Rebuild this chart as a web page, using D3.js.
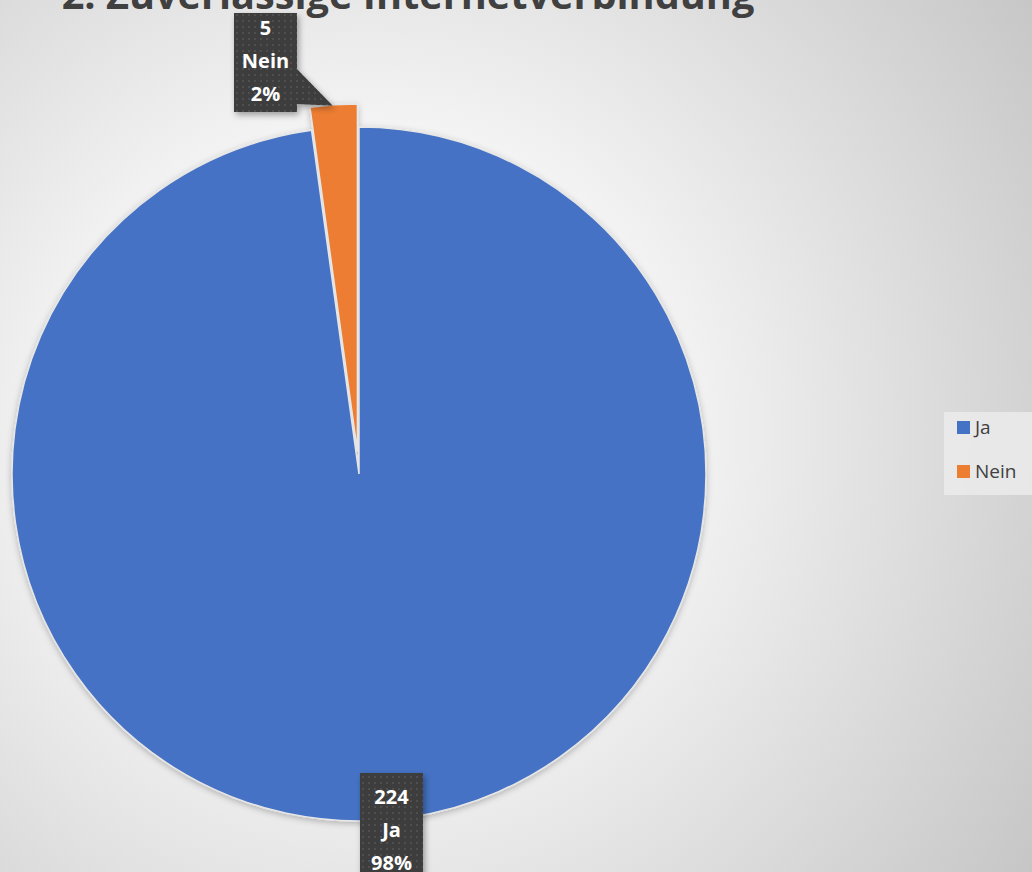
<!DOCTYPE html>
<html><head><meta charset="utf-8">
<script src="https://cdn.jsdelivr.net/npm/d3@7"></script>
<style>html,body{margin:0;padding:0;overflow:hidden;background:#fff}</style>
</head><body>
<svg id="chart" width="1032" height="872"></svg>
<script>
const categories = ["Ja", "Nein"];
const values = [224, 5];
const colors = ["#4472C4", "#ED7D31"];
const title = "2. Zuverlässige Internetverbindung";

const W = 1032, H = 872;
const svg = d3.select("#chart");
const defs = svg.append("defs");

const bg = defs.append("radialGradient").attr("id","bg").attr("gradientUnits","userSpaceOnUse")
  .attr("cx",370).attr("cy",430).attr("r",820);
bg.append("stop").attr("offset",0).attr("stop-color","#ffffff");
bg.append("stop").attr("offset",0.3).attr("stop-color","#f9f9f9");
bg.append("stop").attr("offset",1).attr("stop-color","#c4c4c4");
svg.append("rect").attr("width",W).attr("height",H).attr("fill","url(#bg)");

const pat = defs.append("pattern").attr("id","dots").attr("patternUnits","userSpaceOnUse").attr("width",6).attr("height",6);
pat.append("rect").attr("width",6).attr("height",6).attr("fill","#3d3d3d");
pat.append("circle").attr("cx",3).attr("cy",3).attr("r",1).attr("fill","#555555");

const sh = defs.append("filter").attr("id","shadow").attr("x","-20%").attr("y","-20%").attr("width","150%").attr("height","150%");
sh.append("feDropShadow").attr("dx",2).attr("dy",3).attr("stdDeviation",3).attr("flood-color","#000").attr("flood-opacity",0.35);
const sh2 = defs.append("filter").attr("id","pshadow").attr("x","-10%").attr("y","-10%").attr("width","120%").attr("height","120%");
sh2.append("feDropShadow").attr("dx",0).attr("dy",2).attr("stdDeviation",3).attr("flood-color","#000").attr("flood-opacity",0.25);

// Title
const tt = svg.append("text").attr("x",408).attr("y",9).attr("text-anchor","middle")
  .attr("font-family","'Open Sans', sans-serif").attr("font-weight",700).attr("font-size",36)
  .attr("fill","#404040").text(title);
const tl = tt.node().getComputedTextLength();
tt.attr("font-size", 36*693/tl);

// Pie
const cx = 359, cy = 474, R = 347, explode = 23;
const pie = d3.pie().sort(null).value(d=>d);
const arcs = pie(values);
const arc = d3.arc().innerRadius(0).outerRadius(R);
const g = svg.append("g").attr("transform",`translate(${cx},${cy})`).attr("filter","url(#pshadow)");
g.selectAll("path").data(arcs).join("path")
  .attr("d",arc)
  .attr("fill",(d,i)=>colors[i])
  .attr("stroke","#e6e6e6").attr("stroke-width",1.5)
  .attr("transform",(d,i)=>{
    if(i===0) return null;
    const a=(d.startAngle+d.endAngle)/2;
    return `translate(${explode*Math.sin(a)},${-explode*Math.cos(a)})`;
  });

// Data labels
const total = d3.sum(values);
function labelLines(i){ return [String(values[i]), categories[i], Math.round(values[i]/total*100)+"%"]; }
const lf = "'Open Sans', sans-serif";

// Nein label with callout
{
  const bx=234, by=13, bw=63, bh=99;
  const a=(arcs[1].startAngle+arcs[1].endAngle)/2;
  const tipX = cx + (R+explode)*Math.sin(a)*0.995 - 1, tipY = cy - (R+explode)*Math.cos(a) + 1;
  const p = `M${bx},${by} H${bx+bw} V${by+56} L${tipX},${tipY} L${bx+bw},${by+bh-8} V${by+bh} H${bx} Z`;
  svg.append("path").attr("d",p).attr("fill","url(#dots)").attr("filter","url(#shadow)");
  labelLines(1).forEach((t,k)=>{
    svg.append("text").attr("x",bx+bw/2).attr("y",by+22+k*33).attr("text-anchor","middle")
      .attr("font-family",lf).attr("font-weight",700).attr("font-size",20).attr("fill","#fff").text(t);
  });
}
// Ja label
{
  const bx=360, by=773, bw=63, bh=110;
  svg.append("rect").attr("x",bx).attr("y",by).attr("width",bw).attr("height",bh).attr("fill","url(#dots)").attr("filter","url(#shadow)");
  labelLines(0).forEach((t,k)=>{
    svg.append("text").attr("x",bx+bw/2).attr("y",by+31+k*33).attr("text-anchor","middle")
      .attr("font-family",lf).attr("font-weight",700).attr("font-size",20).attr("fill","#fff").text(t);
  });
}

// Legend
const lg = svg.append("g");
lg.append("rect").attr("x",944).attr("y",412).attr("width",88).attr("height",83).attr("fill","#ebebeb").attr("opacity",0.85);
categories.forEach((c,i)=>{
  const y = 421 + i*44;
  lg.append("rect").attr("x",957).attr("y",y).attr("width",13).attr("height",13).attr("fill",colors[i]);
  lg.append("text").attr("x",975).attr("y",y+13).attr("font-family","'Open Sans', sans-serif")
    .attr("font-size",19).attr("fill","#404040").text(c);
});
</script>
</body></html>
